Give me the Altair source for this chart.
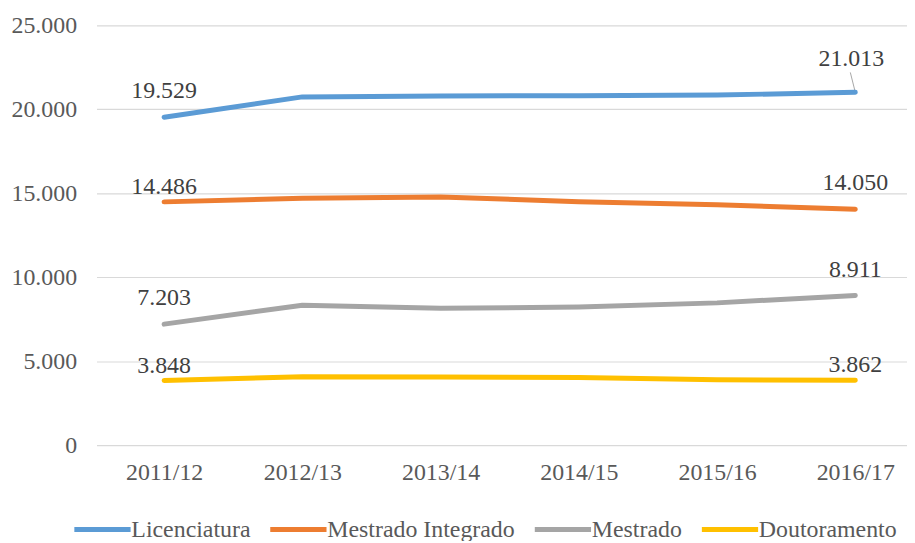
import json
import altair as alt
import pandas as pd

years = ["2011/12", "2012/13", "2013/14", "2014/15", "2015/16", "2016/17"]
series_names = ["Licenciatura", "Mestrado Integrado", "Mestrado", "Doutoramento"]
licenciatura = [19529, 20740, 20800, 20810, 20850, 21013]
mestrado_integrado = [14486, 14700, 14780, 14500, 14320, 14050]
mestrado = [7203, 8330, 8150, 8220, 8470, 8911]
doutoramento = [3848, 4070, 4060, 4020, 3890, 3862]
colors = ["#5B9BD5", "#ED7D31", "#A5A5A5", "#FFC000"]

rows = []
for name, vals in zip(series_names, [licenciatura, mestrado_integrado, mestrado, doutoramento]):
    for i, (yr, v) in enumerate(zip(years, vals)):
        rows.append({"Ano": yr, "idx": i, "Nivel": name, "Inscritos": v})
df = pd.DataFrame(rows)

FONT = "Liberation Serif"
FS = 24
TXT = "#595959"
years_js = json.dumps(years)

x_enc = alt.X(
    "idx:Q",
    scale=alt.Scale(domain=[-0.489, 5.374], nice=False, zero=False),
    axis=alt.Axis(title=None, values=list(range(len(years))),
                  labelExpr=f"{years_js}[datum.value]",
                  labelAngle=0, domain=False, ticks=False, grid=False,
                  labelFont=FONT, labelFontSize=FS, labelColor=TXT, labelPadding=16),
)
y_enc = alt.Y(
    "Inscritos:Q",
    scale=alt.Scale(domain=[0, 25000], nice=False),
    axis=alt.Axis(title=None, values=[0, 5000, 10000, 15000, 20000, 25000],
                  labelExpr="replace(format(datum.value, ','), ',', '.')",
                  domain=False, ticks=False, gridColor="#D9D9D9", gridWidth=1.2,
                  labelFont=FONT, labelFontSize=FS, labelColor=TXT, labelPadding=20),
)

first = "datum.idx == 0"
last = f"datum.idx == {len(years) - 1}"

# leader line for the last Licenciatura label
leader = alt.Chart(df).transform_filter(
    f"{last} && datum.Nivel == 'Licenciatura'"
).mark_point(shape="M -0.25 -1 L 0 0", size=1600, filled=False,
             stroke="#A6A6A6", strokeWidth=1, opacity=1).encode(
    x="idx:Q", y="Inscritos:Q"
)

lines = alt.Chart(df).mark_line(strokeWidth=5, strokeCap="round", strokeJoin="round").encode(
    x=x_enc, y=y_enc,
    color=alt.Color("Nivel:N", sort=series_names,
                    scale=alt.Scale(domain=series_names, range=colors),
                    legend=alt.Legend(title=None, orient="none", direction="horizontal",
                                      legendX=-11, legendY=490,
                                      symbolType="M -2 0 H 2", symbolStrokeWidth=5, symbolSize=800,
                                      labelFont=FONT, labelFontSize=FS, labelColor=TXT,
                                      labelOffset=12, columnPadding=9, labelLimit=400)),
)

labels_base = alt.Chart(df).transform_calculate(
    lbl="replace(format(datum.Inscritos, ','), ',', '.')"
)

def label_layer(filt, dy, dx=0):
    return labels_base.transform_filter(filt).mark_text(
        font=FONT, fontSize=FS, color="#404040", dy=dy, dx=dx, baseline="middle"
    ).encode(x="idx:Q", y="Inscritos:Q", text="lbl:N")

lA = label_layer(f"({first} && (datum.Nivel == 'Licenciatura' || datum.Nivel == 'Mestrado')) || ({last} && (datum.Nivel == 'Mestrado' || datum.Nivel == 'Mestrado Integrado'))", -26)
lB = label_layer(f"({first} && datum.Nivel == 'Mestrado Integrado') || (datum.Nivel == 'Doutoramento' && ({first} || {last}))", -15)
lC = label_layer(f"{last} && datum.Nivel == 'Licenciatura'", -33, -4)

chart = alt.layer(leader, lines, lA, lB, lC).properties(
    width=815, height=422,
    autosize=alt.AutoSizeParams(type="none"),
    padding={"left": 89, "top": 16, "right": 0, "bottom": 95},
).configure_view(stroke=None)

chart.save("out.html", embed_options={"renderer": "svg", "actions": False})
